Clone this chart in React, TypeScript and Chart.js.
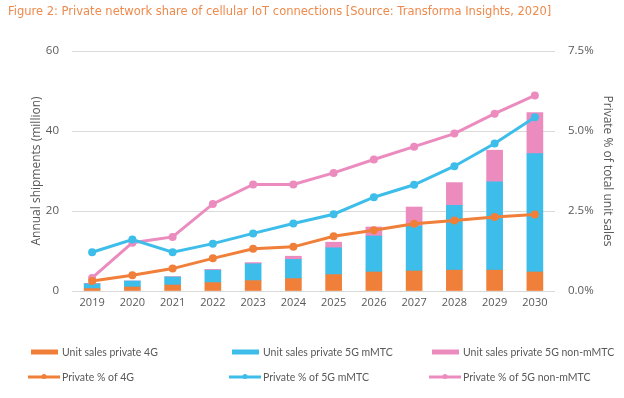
import React, { useEffect, useRef } from "react";
import { Chart, registerables } from "chart.js";

Chart.register(...registerables);

const categories = ["2019", "2020", "2021", "2022", "2023", "2024", "2025", "2026", "2027", "2028", "2029", "2030"];
const unitSales4G = [0.6, 1.0, 1.5, 2.1, 2.6, 3.1, 4.1, 4.75, 5.0, 5.2, 5.2, 4.75];
const unitSales5GmMTC = [1.2, 1.5, 2.0, 3.1, 4.2, 4.8, 6.7, 9.0, 11.25, 16.2, 22.1, 29.6];
const unitSales5GnonMMTC = [0.1, 0.0, 0.1, 0.2, 0.3, 0.8, 1.4, 2.25, 4.75, 5.7, 7.9, 10.25];
const pct4G = [0.31, 0.49, 0.7, 1.02, 1.32, 1.38, 1.71, 1.9, 2.1, 2.2, 2.31, 2.39];
const pct5GmMTC = [1.21, 1.61, 1.21, 1.48, 1.8, 2.11, 2.4, 2.93, 3.32, 3.9, 4.61, 5.43];
const pct5GnonMMTC = [0.41, 1.51, 1.69, 2.72, 3.33, 3.33, 3.69, 4.11, 4.51, 4.92, 5.54, 6.11];

const TITLE = "Figure 2: Private network share of cellular IoT connections [Source: Transforma Insights, 2020]";
const ORANGE = "#F07F3A";
const BLUE = "#3DBDEA";
const PINK = "#EC8BBE";
const TEXT = "#595959";
const LEGEND_FONT = "10.5px 'Liberation Sans Narrow', Lato, sans-serif";

const overlayPlugin = {
  id: "overlay",
  afterDraw(chart: any) {
    const ctx = chart.ctx;
    ctx.save();
    // title
    ctx.fillStyle = "#EE8A4C";
    ctx.font = "11.5px 'DejaVu Sans', sans-serif";
    ctx.textBaseline = "middle";
    ctx.textAlign = "left";
    ctx.fillText(TITLE, 8, 12);
    // legend
    const colX = [31, 232, 432];
    const rowY = [352, 377];
    ctx.font = LEGEND_FONT;
    chart.data.datasets.forEach((ds: any, i: number) => {
      const row = ds.type === "line" ? 1 : 0;
      const col = i % 3;
      const x = colX[col];
      const y = rowY[row];
      const color = ds.borderColor || ds.backgroundColor;
      if (row === 0) {
        ctx.fillStyle = ds.backgroundColor;
        ctx.fillRect(x, y - 2.5, 27, 5);
      } else {
        ctx.strokeStyle = color;
        ctx.lineWidth = 3;
        ctx.beginPath();
        ctx.moveTo(x - 3, y);
        ctx.lineTo(x + 29, y);
        ctx.stroke();
        ctx.fillStyle = color;
        ctx.beginPath();
        ctx.arc(x + 13, y - 0.5, 2.5, 0, Math.PI * 2);
        ctx.fill();
      }
      ctx.fillStyle = TEXT;
      ctx.textBaseline = "middle";
      ctx.fillText(ds.label, x + 31, y + 0.5);
    });
    ctx.restore();
  },
};

export default function App() {
  const ref = useRef<HTMLCanvasElement | null>(null);
  useEffect(() => {
    document.body.style.margin = "0";
    const canvas = ref.current;
    if (!canvas) return;
    const chart = new Chart(canvas, {
      type: "bar",
      data: {
        labels: categories,
        datasets: [
          { type: "bar", label: "Unit sales private 4G", data: unitSales4G, backgroundColor: ORANGE, yAxisID: "y", order: 2, barThickness: 16 },
          { type: "bar", label: "Unit sales private 5G mMTC", data: unitSales5GmMTC, backgroundColor: BLUE, yAxisID: "y", order: 2, barThickness: 16 },
          { type: "bar", label: "Unit sales private 5G non-mMTC", data: unitSales5GnonMMTC, backgroundColor: PINK, yAxisID: "y", order: 2, barThickness: 16 },
          { type: "line", label: "Private % of 4G", data: pct4G, borderColor: ORANGE, backgroundColor: ORANGE, yAxisID: "y1", order: 0, borderWidth: 3, pointRadius: 4, pointBackgroundColor: ORANGE, pointBorderWidth: 0, tension: 0 },
          { type: "line", label: "Private % of 5G mMTC", data: pct5GmMTC, borderColor: BLUE, backgroundColor: BLUE, yAxisID: "y1", order: 0, borderWidth: 3, pointRadius: 4, pointBackgroundColor: BLUE, pointBorderWidth: 0, tension: 0 },
          { type: "line", label: "Private % of 5G non-mMTC", data: pct5GnonMMTC, borderColor: PINK, backgroundColor: PINK, yAxisID: "y1", order: 0, borderWidth: 3, pointRadius: 4, pointBackgroundColor: PINK, pointBorderWidth: 0, tension: 0 },
        ] as any,
      },
      options: {
        responsive: false,
        animation: false,
        layout: { padding: { top: 51, bottom: 87, left: 0, right: 0 } },
        plugins: { legend: { display: false }, title: { display: false }, tooltip: { enabled: false } },
        scales: {
          x: {
            stacked: true,
            grid: { display: false, drawTicks: false },
            border: { display: false },
            ticks: { color: TEXT, font: { family: "'Open Sans', sans-serif", size: 11 }, padding: 5 },
            afterFit: (s: any) => { s.height = 20; },
          },
          y: {
            stacked: true,
            position: "left",
            min: 0,
            max: 60,
            ticks: { stepSize: 20, color: TEXT, font: { family: "'Open Sans', sans-serif", size: 11.5 }, padding: 13 },
            grid: { color: "#D9D9D9", drawTicks: false, lineWidth: 1 },
            border: { display: false },
            title: { display: true, text: "Annual shipments (million)", color: TEXT, font: { family: "'Open Sans', sans-serif", size: 12 }, padding: { top: 29, bottom: 0 } },
            afterFit: (s: any) => { s.width = 72; },
          },
          y1: {
            position: "right",
            min: 0,
            max: 7.5,
            ticks: { stepSize: 2.5, color: TEXT, font: { family: "'Open Sans', sans-serif", size: 11.5 }, padding: 13, callback: (v: any) => Number(v).toFixed(1) + "%" },
            grid: { display: false, drawTicks: false },
            border: { display: false },
            title: { display: true, text: "Private % of total unit sales", color: TEXT, font: { family: "'Open Sans', sans-serif", size: 12 }, padding: { top: 9, bottom: 0 } },
            afterFit: (s: any) => { s.width = 69; },
          },
        },
      } as any,
      plugins: [overlayPlugin],
    });
    return () => chart.destroy();
  }, []);
  return (
    <div style={{ width: 624, height: 398, background: "#fff" }}>
      <canvas ref={ref} width={624} height={398} />
    </div>
  );
}
